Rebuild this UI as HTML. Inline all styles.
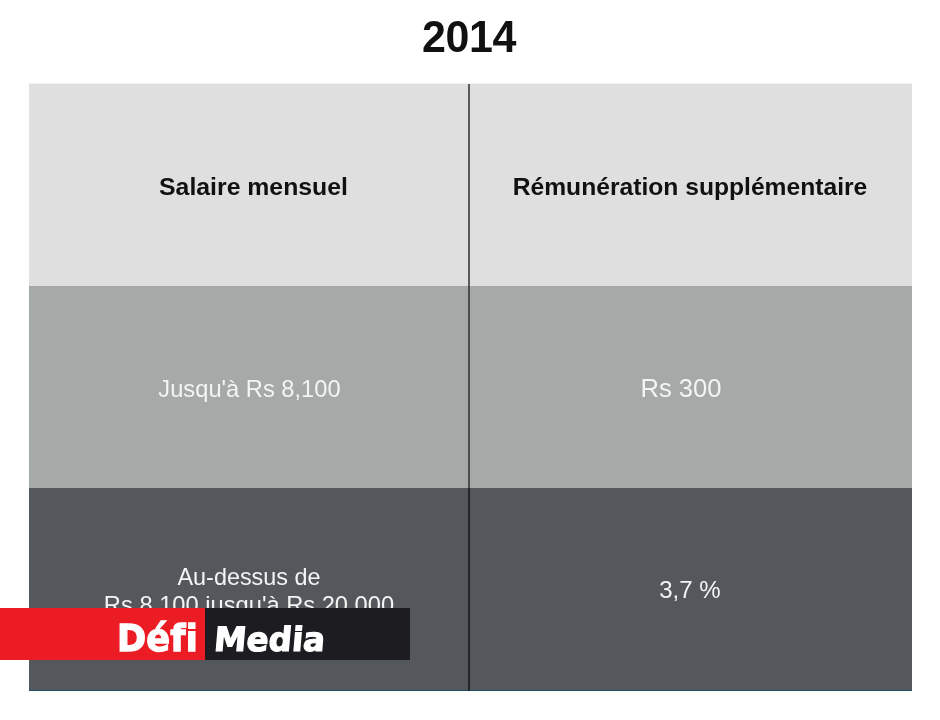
<!DOCTYPE html>
<html lang="fr">
<head>
<meta charset="utf-8">
<title>2014</title>
<style>
html,body{margin:0;padding:0;background:#fff;}
body{width:940px;height:720px;position:relative;overflow:hidden;font-family:"Liberation Sans",sans-serif;}
.abs{position:absolute;}
#title{left:0;width:940px;top:12px;text-align:center;font-weight:bold;font-size:43px;line-height:48px;color:#111;letter-spacing:-0.4px;text-indent:-2px;transform:scaleY(1.05);transform-origin:50% 51%;}
#table{left:29px;top:84px;width:883px;height:607px;}
.row{position:absolute;left:0;width:883px;}
#r1{top:0;height:202px;background:#dfdfdf;box-shadow:0 -1px 0 #f1f1f1;}
#r2{top:202px;height:203px;background:#a5a9a8;}
#r3{top:404px;height:203px;background:#54585c;border-bottom:1px solid #1f5166;box-sizing:border-box;}
#vline{left:468px;top:84px;width:2px;height:607px;background:linear-gradient(to bottom,#5a5a5a 0,#5a5a5a 202px,#4a4e4d 202px,#4a4e4d 404px,#232529 404px,#232529 607px);}
.t{position:absolute;white-space:nowrap;text-align:center;}
.h{font-weight:bold;color:#111;font-size:24.8px;line-height:28px;}
.c{color:#f4f4f4;font-size:23.7px;line-height:28.4px;}
#logo{left:0;top:608px;width:410px;height:52px;}
#red{left:0;top:0;width:205px;height:52px;background:#ec1c24;}
#blk{left:205px;top:0;width:205px;height:52px;background:#1c1c21;}
.lg{position:absolute;font-family:"DejaVu Sans","Liberation Sans",sans-serif;font-weight:bold;color:#fff;line-height:40px;white-space:nowrap;transform-origin:0 0;}
</style>
</head>
<body>
<div id="title" class="abs">2014</div>
<div id="table" class="abs">
  <div id="r1" class="row"></div>
  <div id="r2" class="row"></div>
  <div id="r3" class="row"></div>
</div>
<div id="vline" class="abs"></div>
<div class="t h" id="h1" style="left:34px;width:439px;top:173px;">Salaire mensuel</div>
<div class="t h" id="h2" style="left:469px;width:442px;top:173px;font-size:24.65px;">Rémunération supplémentaire</div>
<div class="t c" id="c1" style="left:30px;width:439px;top:375px;">Jusqu'à Rs 8,100</div>
<div class="t c" id="c2" style="left:460px;width:442px;top:374px;font-size:25.6px;">Rs 300</div>
<div class="t c" id="c3" style="left:29px;width:440px;top:562.5px;font-size:23.4px;">Au-dessus de</div>
<div class="t c" id="c3b" style="left:29px;width:440px;top:591px;">Rs 8,100 jusqu'à Rs 20,000</div>
<div class="t c" id="c4" style="left:469px;width:442px;top:576px;font-size:23px;transform:scaleX(1.045);">3,7 %</div>
<div id="logo" class="abs">
  <div id="red" class="abs"></div>
  <div id="blk" class="abs"></div>
  <div class="lg" id="l1" style="left:116.5px;top:10.5px;font-size:36.6px;transform:scaleX(0.96);-webkit-text-stroke:1.3px #fff;font-variant-ligatures:none;letter-spacing:0.2px;">Défi</div>
  <div class="abs" id="idot" style="left:187px;top:21px;width:11px;height:2px;background:#ec1c24;"></div>
  <div class="lg" id="l2" style="left:216px;top:11.5px;font-size:33.5px;transform:scaleX(0.972) skewX(-5deg);-webkit-text-stroke:1.2px #fff;">Media</div>
</div>
</body>
</html>
